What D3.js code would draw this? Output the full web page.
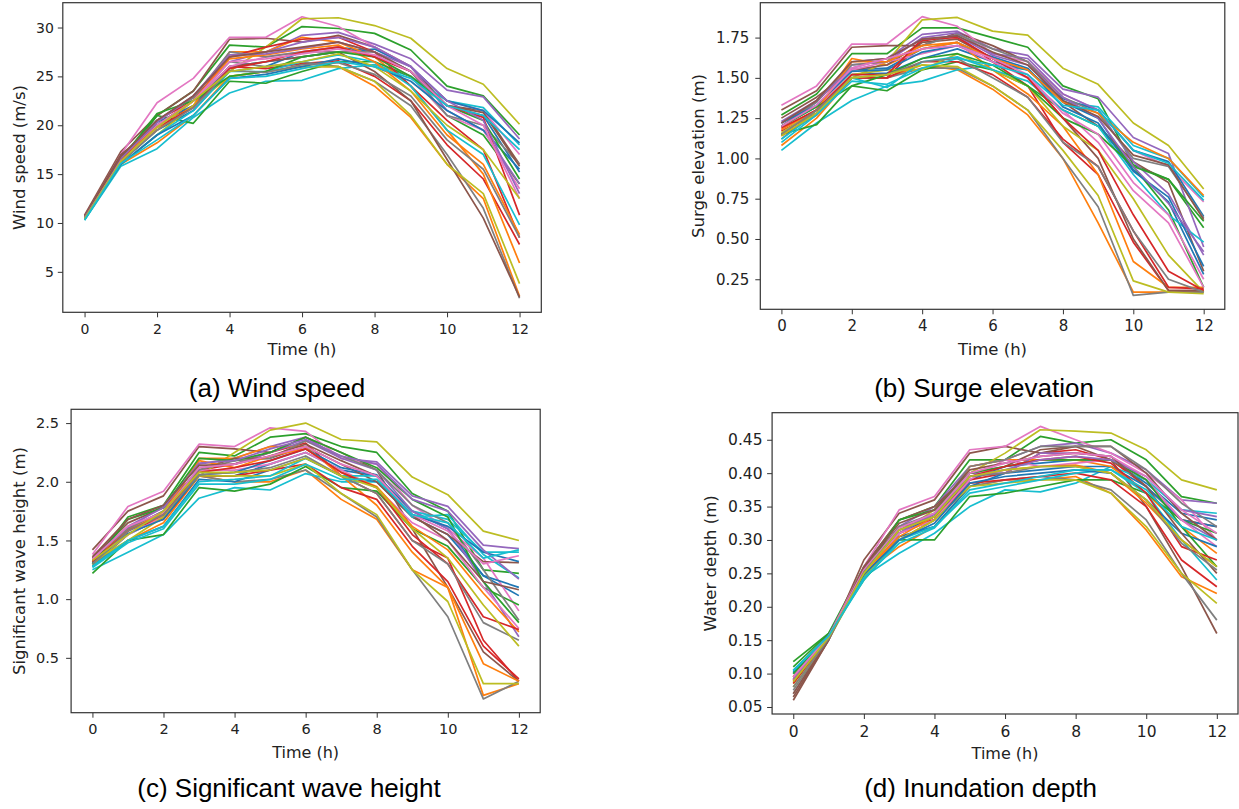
<!DOCTYPE html>
<html>
<head>
<meta charset="utf-8">
<script src="https://cdn.jsdelivr.net/npm/d3@7"></script>
<style>
  body { margin: 0; background: #fff; }
  svg { display: block; }
</style>
</head>
<body>
<svg id="chart" width="1239" height="809"></svg>
<script>
const hours = [0, 1, 2, 3, 4, 5, 6, 7, 8, 9, 10, 11, 12]
const xTicks = [0, 2, 4, 6, 8, 10, 12]

// each series list is in matplotlib colour-cycle order (tab10), repeating every 10 lines
const windSpeed = [
  [10.4, 16.2, 19.5, 21.5, 25.5, 26.0, 27.5, 28.0, 27.5, 25.5, 22.0, 21.0, 15.2],
  [10.4, 16.0, 18.2, 21.0, 25.0, 25.5, 26.0, 26.0, 24.0, 20.8, 16.0, 12.5, 2.5],
  [10.6, 16.5, 21.0, 23.5, 28.2, 28.0, 30.1, 29.9, 29.4, 27.7, 24.0, 23.0, 19.0],
  [10.5, 16.5, 20.0, 22.0, 26.0, 25.8, 26.3, 26.6, 25.0, 22.5, 18.0, 14.5, 7.8],
  [10.5, 16.5, 20.0, 22.5, 26.5, 27.5, 29.2, 29.5, 28.3, 26.8, 23.6, 22.9, 18.6],
  [10.8, 17.3, 21.0, 23.5, 28.8, 28.9, 28.5, 29.2, 28.0, 26.0, 22.0, 21.5, 16.0],
  [10.6, 17.0, 22.3, 24.8, 29.0, 29.0, 31.1, 30.1, 28.0, 26.0, 22.5, 21.5, 17.0],
  [10.5, 16.5, 20.5, 22.8, 26.5, 26.0, 26.5, 26.0, 24.5, 22.0, 17.0, 11.5, 2.3],
  [10.5, 16.5, 19.5, 22.5, 25.5, 28.0, 30.9, 31.0, 30.2, 28.9, 25.8, 24.2, 20.1],
  [10.3, 15.8, 17.6, 20.8, 23.3, 24.5, 24.6, 25.8, 26.2, 25.0, 22.5, 21.8, 18.0],
  [10.5, 16.4, 20.3, 22.0, 26.0, 26.5, 27.0, 27.5, 27.8, 26.0, 22.5, 21.5, 18.2],
  [10.4, 16.3, 19.5, 22.0, 27.5, 27.5, 29.0, 28.5, 27.0, 24.0, 19.5, 15.0, 5.9],
  [10.5, 16.0, 21.0, 20.2, 24.5, 24.3, 25.5, 26.5, 26.5, 25.0, 21.0, 19.0, 14.0],
  [10.5, 16.8, 20.5, 22.5, 27.0, 28.0, 28.8, 29.0, 27.5, 24.0, 20.5, 17.5, 8.5],
  [10.6, 16.8, 20.5, 23.0, 27.0, 27.5, 28.5, 29.0, 28.0, 26.0, 21.5, 19.5, 14.0],
  [10.7, 17.0, 20.0, 22.5, 26.0, 26.5, 27.0, 27.5, 25.5, 22.5, 16.5, 10.5, 2.4],
  [10.5, 16.5, 20.0, 22.5, 26.0, 27.0, 27.5, 28.0, 27.0, 25.0, 21.0, 19.5, 13.5],
  [10.5, 16.5, 20.5, 22.8, 27.5, 27.0, 27.5, 27.5, 27.5, 25.5, 21.0, 20.0, 16.0],
  [10.5, 16.0, 19.0, 22.0, 25.0, 25.5, 26.0, 26.0, 24.5, 21.0, 16.0, 13.0, 3.8],
  [10.3, 16.0, 19.0, 21.5, 25.5, 25.5, 26.5, 27.2, 26.5, 24.0, 19.5, 17.0, 9.8],
  [10.4, 16.0, 19.0, 21.0, 24.8, 25.2, 26.0, 26.8, 26.0, 24.5, 21.5, 19.5, 15.5],
  [10.5, 16.6, 19.8, 22.5, 26.8, 27.2, 27.8, 28.2, 26.5, 23.5, 19.0, 16.0, 8.8],
  [10.5, 16.5, 21.2, 22.5, 25.0, 25.5, 27.0, 27.5, 27.0, 25.0, 22.0, 20.5, 14.5],
  [10.4, 16.4, 19.8, 21.8, 25.8, 26.5, 27.5, 28.0, 27.0, 25.5, 22.0, 20.8, 10.8],
  [10.6, 16.6, 20.3, 23.0, 27.2, 27.3, 27.9, 28.5, 27.5, 26.0, 22.5, 20.5, 13.0],
  [10.6, 16.8, 20.5, 23.0, 27.0, 27.5, 28.0, 28.5, 27.5, 25.5, 22.0, 21.3, 15.8],
  [10.5, 16.3, 19.8, 22.5, 26.5, 26.8, 27.3, 27.8, 27.2, 25.5, 22.0, 20.0, 12.5],
  [10.5, 16.2, 19.5, 21.8, 25.6, 25.4, 26.2, 26.4, 25.2, 23.0, 18.5, 15.5, 8.5],
  [10.4, 16.3, 19.8, 22.5, 25.5, 26.0, 26.5, 27.3, 26.0, 23.5, 20.0, 17.5, 12.5],
  [10.3, 16.1, 18.5, 21.0, 24.8, 25.0, 25.8, 26.5, 26.0, 24.8, 22.0, 21.0, 17.5]
]

const surgeElevation = [
  [1.20, 1.32, 1.55, 1.56, 1.68, 1.72, 1.62, 1.55, 1.35, 1.25, 0.93, 0.73, 0.28],
  [1.08, 1.25, 1.50, 1.50, 1.58, 1.55, 1.43, 1.27, 1.00, 0.60, 0.17, 0.17, 0.17],
  [1.27, 1.40, 1.65, 1.65, 1.81, 1.81, 1.75, 1.69, 1.45, 1.37, 0.96, 0.87, 0.57],
  [1.17, 1.28, 1.50, 1.50, 1.73, 1.76, 1.60, 1.45, 1.10, 0.90, 0.48, 0.18, 0.18],
  [1.20, 1.35, 1.60, 1.62, 1.77, 1.79, 1.68, 1.64, 1.43, 1.38, 1.13, 1.03, 0.45],
  [1.30, 1.42, 1.69, 1.70, 1.70, 1.78, 1.70, 1.60, 1.35, 1.20, 0.98, 0.85, 0.30],
  [1.33, 1.45, 1.71, 1.71, 1.88, 1.82, 1.65, 1.60, 1.40, 1.30, 1.05, 0.95, 0.73],
  [1.12, 1.30, 1.50, 1.50, 1.56, 1.56, 1.45, 1.30, 1.00, 0.70, 0.15, 0.17, 0.17],
  [1.15, 1.30, 1.50, 1.60, 1.86, 1.875, 1.79, 1.765, 1.56, 1.46, 1.22, 1.08, 0.81],
  [1.05, 1.22, 1.36, 1.45, 1.48, 1.55, 1.58, 1.55, 1.35, 1.32, 1.08, 1.00, 0.76],
  [1.15, 1.30, 1.52, 1.53, 1.62, 1.68, 1.60, 1.55, 1.37, 1.30, 1.05, 0.98, 0.64],
  [1.15, 1.30, 1.62, 1.58, 1.68, 1.72, 1.55, 1.40, 1.20, 0.90, 0.36, 0.20, 0.20],
  [1.15, 1.21, 1.45, 1.42, 1.55, 1.60, 1.55, 1.45, 1.30, 1.20, 0.95, 0.68, 0.20],
  [1.14, 1.27, 1.50, 1.50, 1.60, 1.60, 1.52, 1.38, 1.12, 0.95, 0.55, 0.20, 0.19],
  [1.22, 1.35, 1.58, 1.60, 1.75, 1.78, 1.65, 1.62, 1.40, 1.30, 0.98, 0.78, 0.40],
  [1.25, 1.38, 1.55, 1.58, 1.72, 1.74, 1.62, 1.50, 1.25, 1.00, 0.50, 0.18, 0.18],
  [1.18, 1.30, 1.55, 1.60, 1.65, 1.70, 1.60, 1.50, 1.30, 1.10, 0.80, 0.60, 0.20],
  [1.20, 1.35, 1.58, 1.60, 1.70, 1.77, 1.68, 1.60, 1.38, 1.28, 1.00, 0.95, 0.63],
  [1.16, 1.30, 1.52, 1.55, 1.55, 1.65, 1.55, 1.45, 1.20, 1.05, 0.75, 0.40, 0.17],
  [1.12, 1.28, 1.50, 1.44, 1.60, 1.63, 1.55, 1.48, 1.30, 1.20, 0.90, 0.65, 0.48],
  [1.22, 1.33, 1.54, 1.55, 1.66, 1.70, 1.63, 1.56, 1.32, 1.22, 0.92, 0.76, 0.33],
  [1.18, 1.30, 1.60, 1.60, 1.70, 1.72, 1.62, 1.55, 1.35, 1.28, 1.10, 1.00, 0.77],
  [1.20, 1.32, 1.45, 1.52, 1.62, 1.65, 1.58, 1.45, 1.25, 1.15, 0.95, 0.87, 0.61],
  [1.19, 1.30, 1.52, 1.52, 1.74, 1.75, 1.62, 1.50, 1.25, 1.05, 0.65, 0.30, 0.18],
  [1.23, 1.36, 1.56, 1.62, 1.74, 1.76, 1.64, 1.58, 1.38, 1.25, 0.95, 0.72, 0.42],
  [1.22, 1.36, 1.60, 1.62, 1.74, 1.76, 1.66, 1.58, 1.36, 1.26, 1.02, 0.96, 0.62],
  [1.20, 1.33, 1.56, 1.62, 1.68, 1.70, 1.62, 1.52, 1.28, 1.15, 0.85, 0.65, 0.25],
  [1.15, 1.30, 1.50, 1.52, 1.60, 1.62, 1.50, 1.38, 1.10, 0.95, 0.55, 0.25, 0.17],
  [1.14, 1.28, 1.50, 1.52, 1.58, 1.57, 1.45, 1.30, 1.05, 0.77, 0.24, 0.17, 0.16],
  [1.10, 1.27, 1.48, 1.46, 1.56, 1.62, 1.58, 1.52, 1.33, 1.30, 1.05, 0.97, 0.74]
]

const waveHeight = [
  [1.30, 1.55, 1.70, 2.05, 2.05, 2.15, 2.25, 2.10, 2.05, 1.75, 1.60, 1.20, 1.03],
  [1.30, 1.50, 1.65, 2.05, 2.00, 2.00, 2.10, 1.85, 1.68, 1.25, 1.10, 0.18, 0.28],
  [1.30, 1.70, 1.80, 2.25, 2.22, 2.38, 2.41, 2.30, 2.25, 1.90, 1.75, 1.25, 1.22],
  [1.35, 1.60, 1.70, 2.10, 2.15, 2.25, 2.33, 2.05, 1.90, 1.50, 1.35, 0.65, 0.30],
  [1.35, 1.60, 1.80, 2.15, 2.20, 2.30, 2.38, 2.20, 2.17, 1.88, 1.79, 1.46, 1.43],
  [1.42, 1.75, 1.88, 2.30, 2.28, 2.25, 2.38, 2.25, 2.10, 1.60, 1.10, 0.55, 0.30],
  [1.38, 1.79, 1.92, 2.32, 2.30, 2.46, 2.43, 2.20, 2.15, 1.80, 1.60, 1.35, 0.90],
  [1.28, 1.55, 1.70, 2.05, 2.00, 2.02, 2.10, 1.90, 1.70, 1.25, 0.85, 0.15, 0.30],
  [1.30, 1.55, 1.75, 2.05, 2.25, 2.44, 2.50, 2.36, 2.34, 2.04, 1.89, 1.58, 1.50],
  [1.25, 1.40, 1.55, 1.86, 1.95, 1.93, 2.07, 2.00, 2.00, 1.75, 1.68, 1.40, 1.40],
  [1.28, 1.50, 1.62, 2.02, 2.00, 2.10, 2.20, 2.05, 2.00, 1.70, 1.55, 1.20, 1.10],
  [1.30, 1.60, 1.70, 2.20, 2.20, 2.30, 2.30, 2.05, 1.80, 1.40, 1.10, 0.45, 0.30],
  [1.22, 1.50, 1.55, 1.95, 1.92, 1.98, 2.13, 1.95, 1.92, 1.60, 1.45, 1.10, 0.95],
  [1.30, 1.60, 1.68, 2.05, 2.05, 2.10, 2.15, 1.95, 1.85, 1.45, 1.15, 0.60, 0.32],
  [1.33, 1.60, 1.75, 2.12, 2.15, 2.25, 2.35, 2.20, 2.10, 1.75, 1.60, 1.15, 0.68],
  [1.35, 1.65, 1.78, 2.10, 2.20, 2.20, 2.30, 2.15, 2.00, 1.70, 1.55, 1.32, 1.31],
  [1.32, 1.55, 1.70, 2.10, 2.10, 2.15, 2.25, 2.10, 1.95, 1.65, 1.50, 1.10, 0.75],
  [1.32, 1.60, 1.75, 2.10, 2.18, 2.20, 2.35, 2.22, 2.10, 1.80, 1.65, 1.25, 0.82],
  [1.32, 1.50, 1.70, 2.05, 2.05, 2.05, 2.15, 1.90, 1.72, 1.25, 0.98, 0.28, 0.28],
  [1.28, 1.50, 1.62, 2.00, 2.02, 2.05, 2.20, 2.05, 2.05, 1.70, 1.72, 1.38, 1.18],
  [1.31, 1.56, 1.68, 2.06, 2.08, 2.18, 2.28, 2.12, 2.06, 1.72, 1.62, 1.40, 1.32],
  [1.33, 1.58, 1.74, 2.18, 2.12, 2.22, 2.28, 2.08, 1.96, 1.62, 1.42, 1.05, 0.72],
  [1.30, 1.68, 1.78, 2.20, 2.18, 2.25, 2.38, 2.25, 2.12, 1.85, 1.70, 1.15, 0.80],
  [1.32, 1.58, 1.72, 2.08, 2.12, 2.18, 2.28, 2.08, 1.95, 1.55, 1.30, 0.85, 0.74],
  [1.34, 1.62, 1.78, 2.16, 2.18, 2.28, 2.36, 2.22, 2.15, 1.85, 1.75, 1.42, 1.17],
  [1.36, 1.68, 1.80, 2.14, 2.15, 2.22, 2.32, 2.18, 2.05, 1.72, 1.50, 1.15, 1.08],
  [1.34, 1.62, 1.74, 2.12, 2.15, 2.22, 2.30, 2.15, 2.05, 1.72, 1.58, 1.30, 1.37],
  [1.30, 1.58, 1.72, 2.06, 2.08, 2.12, 2.22, 2.05, 1.90, 1.50, 1.30, 0.80, 0.65],
  [1.33, 1.55, 1.75, 2.08, 2.08, 2.10, 2.20, 2.05, 1.95, 1.60, 1.35, 0.95, 0.60],
  [1.27, 1.48, 1.60, 1.98, 1.98, 2.02, 2.15, 2.02, 2.02, 1.72, 1.65, 1.35, 1.42]
]

const waterDepth = [
  [0.100, 0.157, 0.245, 0.310, 0.335, 0.390, 0.410, 0.415, 0.420, 0.420, 0.385, 0.340, 0.330],
  [0.090, 0.155, 0.250, 0.290, 0.320, 0.380, 0.390, 0.390, 0.395, 0.370, 0.315, 0.245, 0.220],
  [0.118, 0.160, 0.260, 0.330, 0.350, 0.420, 0.420, 0.455, 0.445, 0.450, 0.420, 0.365, 0.355],
  [0.095, 0.155, 0.250, 0.320, 0.330, 0.390, 0.400, 0.430, 0.435, 0.420, 0.380, 0.330, 0.320],
  [0.095, 0.158, 0.255, 0.320, 0.350, 0.410, 0.420, 0.440, 0.445, 0.430, 0.405, 0.360, 0.355],
  [0.060, 0.150, 0.270, 0.340, 0.360, 0.430, 0.440, 0.430, 0.440, 0.420, 0.350, 0.260, 0.160],
  [0.100, 0.155, 0.260, 0.345, 0.365, 0.435, 0.440, 0.470, 0.450, 0.430, 0.400, 0.360, 0.300],
  [0.070, 0.150, 0.250, 0.300, 0.330, 0.380, 0.390, 0.395, 0.390, 0.375, 0.330, 0.250, 0.180],
  [0.085, 0.155, 0.250, 0.310, 0.345, 0.400, 0.430, 0.465, 0.463, 0.460, 0.435, 0.390, 0.375],
  [0.100, 0.155, 0.245, 0.280, 0.310, 0.350, 0.375, 0.372, 0.385, 0.410, 0.390, 0.345, 0.340],
  [0.105, 0.157, 0.245, 0.305, 0.320, 0.380, 0.400, 0.405, 0.410, 0.410, 0.380, 0.330, 0.320],
  [0.095, 0.155, 0.255, 0.300, 0.330, 0.410, 0.420, 0.420, 0.420, 0.410, 0.370, 0.320, 0.280],
  [0.110, 0.160, 0.240, 0.300, 0.300, 0.365, 0.370, 0.380, 0.390, 0.390, 0.370, 0.330, 0.310],
  [0.085, 0.153, 0.250, 0.310, 0.330, 0.385, 0.390, 0.395, 0.400, 0.390, 0.350, 0.270, 0.230],
  [0.090, 0.156, 0.250, 0.310, 0.340, 0.400, 0.400, 0.430, 0.430, 0.425, 0.390, 0.330, 0.300],
  [0.065, 0.150, 0.260, 0.330, 0.350, 0.400, 0.410, 0.435, 0.440, 0.440, 0.400, 0.340, 0.300],
  [0.090, 0.155, 0.250, 0.310, 0.330, 0.390, 0.420, 0.410, 0.415, 0.420, 0.390, 0.330, 0.290],
  [0.075, 0.152, 0.255, 0.320, 0.340, 0.410, 0.420, 0.440, 0.440, 0.440, 0.405, 0.355, 0.320],
  [0.080, 0.152, 0.245, 0.300, 0.330, 0.380, 0.385, 0.390, 0.390, 0.370, 0.320, 0.250, 0.205],
  [0.105, 0.156, 0.240, 0.300, 0.320, 0.370, 0.380, 0.390, 0.400, 0.405, 0.370, 0.300, 0.240],
  [0.102, 0.157, 0.248, 0.300, 0.325, 0.385, 0.395, 0.400, 0.405, 0.400, 0.360, 0.310, 0.290],
  [0.092, 0.155, 0.252, 0.305, 0.335, 0.395, 0.405, 0.410, 0.412, 0.400, 0.355, 0.300, 0.260],
  [0.100, 0.156, 0.250, 0.330, 0.345, 0.400, 0.410, 0.420, 0.420, 0.420, 0.390, 0.320, 0.260],
  [0.088, 0.154, 0.252, 0.315, 0.335, 0.395, 0.410, 0.420, 0.425, 0.415, 0.370, 0.290, 0.270],
  [0.092, 0.156, 0.252, 0.315, 0.338, 0.395, 0.405, 0.420, 0.425, 0.420, 0.395, 0.345, 0.335],
  [0.070, 0.151, 0.258, 0.325, 0.345, 0.405, 0.415, 0.425, 0.430, 0.425, 0.380, 0.310, 0.250],
  [0.095, 0.156, 0.255, 0.318, 0.340, 0.400, 0.415, 0.425, 0.430, 0.425, 0.395, 0.345, 0.310],
  [0.080, 0.152, 0.252, 0.315, 0.335, 0.395, 0.400, 0.410, 0.410, 0.400, 0.360, 0.295, 0.255],
  [0.088, 0.154, 0.250, 0.315, 0.335, 0.395, 0.405, 0.410, 0.410, 0.400, 0.360, 0.300, 0.260],
  [0.104, 0.156, 0.243, 0.295, 0.318, 0.375, 0.385, 0.395, 0.405, 0.405, 0.375, 0.320, 0.300]
]

const windTicks = [5, 10, 15, 20, 25, 30]
const surgeTicks = [0.25, 0.5, 0.75, 1.0, 1.25, 1.5, 1.75]
const waveTicks = [0.5, 1.0, 1.5, 2.0, 2.5]
const depthTicks = [0.05, 0.1, 0.15, 0.2, 0.25, 0.3, 0.35, 0.4, 0.45]

const tab10 = d3.schemeCategory10
const svg = d3.select('#chart')

/**
 * Draws one matplotlib-like panel with its frame, axes, labels and caption.
 */
function drawPanel (p) {
  const g = svg.append('g').attr('transform', `translate(${p.left},${p.top})`)
  const width = p.right - p.left
  const height = p.bottom - p.top

  const x = d3.scaleLinear().domain([-0.6, 12.6]).range([0, width])
  const [lo, hi] = d3.extent(p.series.flat())
  const pad = (hi - lo) * 0.05
  const y = d3.scaleLinear().domain([lo - pad, hi + pad]).range([height, 0])

  const line = d3.line()
    .x((d, i) => x(hours[i]))
    .y(d => y(d))

  g.selectAll('.series')
    .data(p.series)
    .join('path')
    .attr('class', 'series')
    .attr('d', line)
    .attr('fill', 'none')
    .attr('stroke', (d, i) => tab10[i % 10])
    .attr('stroke-width', 1.7)
    .attr('stroke-linejoin', 'round')

  const xAxis = g.append('g')
    .attr('transform', `translate(0,${height})`)
    .call(d3.axisBottom(x).tickValues(xTicks).tickFormat(d3.format('d')).tickSize(5).tickPadding(p.xPad))
  const yAxis = g.append('g')
    .call(d3.axisLeft(y).tickValues(p.ticks).tickFormat(d3.format(p.fmt)).tickSize(5).tickPadding(p.yPad))

  for (const axis of [xAxis, yAxis]) {
    axis.select('.domain').remove()
    axis.selectAll('line').attr('stroke', '#333').attr('stroke-width', 1)
    axis.selectAll('text')
      .attr('fill', '#222')
      .style('font-family', 'DejaVu Sans')
      .style('font-size', p.tickFont + 'px')
  }

  g.append('rect')
    .attr('width', width)
    .attr('height', height)
    .attr('fill', 'none')
    .attr('stroke', '#333')
    .attr('stroke-width', 1.2)

  g.append('text')
    .attr('x', width / 2)
    .attr('y', p.xLabelY - p.top)
    .attr('text-anchor', 'middle')
    .attr('dominant-baseline', 'central')
    .attr('fill', '#222')
    .style('font-family', 'DejaVu Sans')
    .style('font-size', p.labelFont + 'px')
    .text('Time (h)')

  g.append('text')
    .attr('transform', `translate(${p.yLabelX - p.left},${height / 2}) rotate(-90)`)
    .attr('text-anchor', 'middle')
    .attr('dominant-baseline', 'central')
    .attr('fill', '#222')
    .style('font-family', 'DejaVu Sans')
    .style('font-size', p.yLabelFont + 'px')
    .text(p.yLabel)

  svg.append('text')
    .attr('x', p.captionX)
    .attr('y', p.captionY)
    .attr('text-anchor', 'middle')
    .attr('fill', '#000')
    .style('font-family', 'Liberation Sans, Arial, sans-serif')
    .style('font-size', '26px')
    .text(p.caption)
}

drawPanel({
  series: windSpeed, ticks: windTicks, fmt: 'd',
  left: 62.8, right: 541.3, top: 2.7, bottom: 312.3,
  xPad: 7, yPad: 4, tickFont: 14, labelFont: 16.5, yLabelFont: 16.5,
  xLabelY: 350, yLabelX: 19.7, yLabel: 'Wind speed (m/s)',
  captionX: 277, captionY: 397, caption: '(a) Wind speed'
})

drawPanel({
  series: surgeElevation, ticks: surgeTicks, fmt: '.2f',
  left: 760.3, right: 1224.8, top: 2.7, bottom: 309.3,
  xPad: 6.5, yPad: 6, tickFont: 15, labelFont: 16.5, yLabelFont: 16.5,
  xLabelY: 349.3, yLabelX: 698, yLabel: 'Surge elevation (m)',
  captionX: 984, captionY: 397, caption: '(b) Surge elevation'
})

drawPanel({
  series: waveHeight, ticks: waveTicks, fmt: '.1f',
  left: 71.1, right: 540.2, top: 409.3, bottom: 712.7,
  xPad: 6.5, yPad: 7, tickFont: 14.5, labelFont: 16, yLabelFont: 16.5,
  xLabelY: 752.7, yLabelX: 19.7, yLabel: 'Significant wave height (m)',
  captionX: 289, captionY: 797, caption: '(c) Significant wave height'
})

drawPanel({
  series: waterDepth, ticks: depthTicks, fmt: '.2f',
  left: 772.1, right: 1238, top: 412.7, bottom: 714,
  xPad: 6.5, yPad: 4.5, tickFont: 15.5, labelFont: 16, yLabelFont: 16.5,
  xLabelY: 753.3, yLabelX: 710.5, yLabel: 'Water depth (m)',
  captionX: 980.5, captionY: 797, caption: '(d) Inundation depth'
})
</script>
</body>
</html>
